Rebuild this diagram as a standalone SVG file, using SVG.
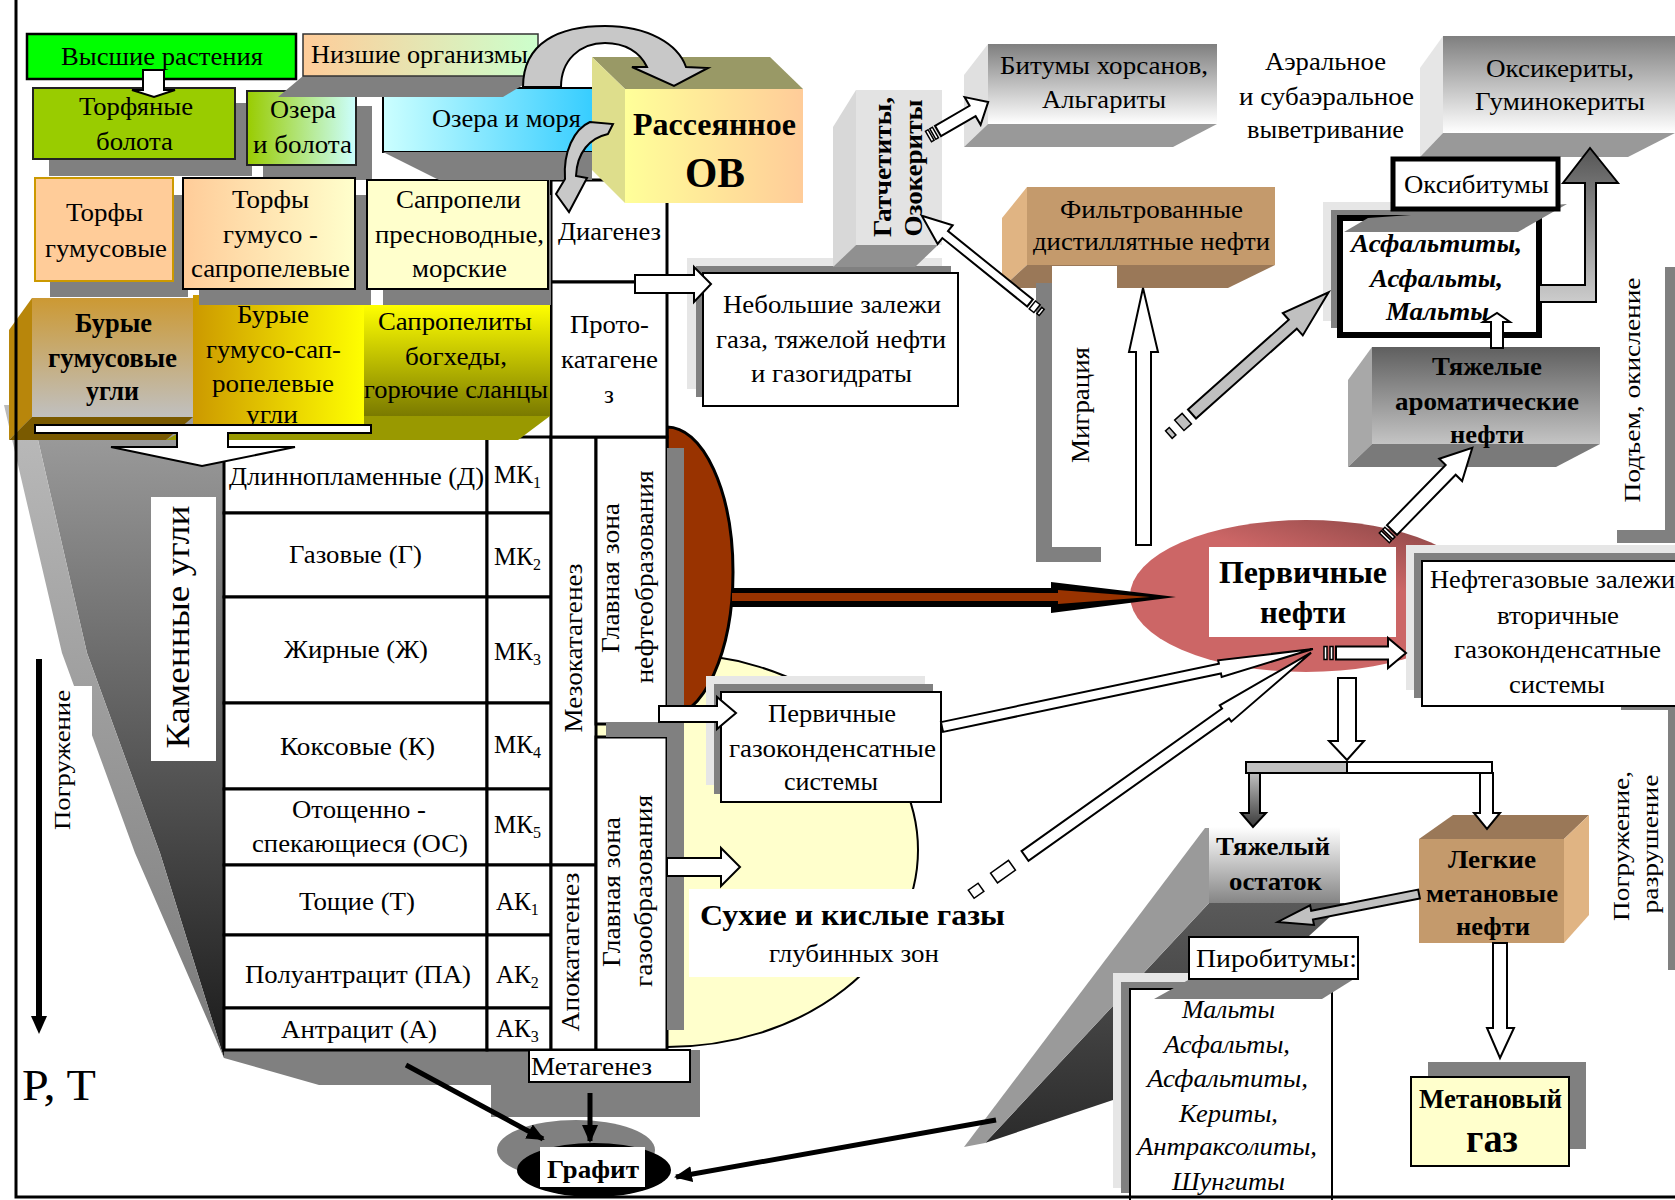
<svg xmlns="http://www.w3.org/2000/svg" width="1675" height="1200" viewBox="0 0 1675 1200">
<defs>
<style>
text{font-family:"Liberation Serif","Times New Roman",serif;font-size:25px;fill:#000}
.m{text-anchor:middle}
.b{font-weight:bold}
.i{font-style:italic}
.sh{fill:#808080}
.shl{fill:#e6e6e6}
.bx{fill:#fff;stroke:#000;stroke-width:2}
.cell{fill:#fff;stroke:#000;stroke-width:3}
.wa{fill:#fff;stroke:#000;stroke-width:2;stroke-linejoin:miter}
.ga{fill:#c0c0c0;stroke:#000;stroke-width:2}
.st{fill:#fff;stroke:#000;stroke-width:1.5}
.blk{stroke:#000;stroke-width:5;fill:none}
</style>
<linearGradient id="gOzB" x1="0" y1="0" x2="1" y2="0"><stop offset="0" stop-color="#99CC00"/><stop offset="1" stop-color="#CCFFFF"/></linearGradient>
<linearGradient id="gNiz" x1="0" y1="0" x2="1" y2="0"><stop offset="0" stop-color="#FFCC99"/><stop offset="1" stop-color="#CCFFCC"/></linearGradient>
<linearGradient id="gOzM" x1="0" y1="0" x2="1" y2="0"><stop offset="0" stop-color="#CCFFFF"/><stop offset="1" stop-color="#33CCFF"/></linearGradient>
<linearGradient id="gTGS" x1="0" y1="0" x2="1" y2="0"><stop offset="0" stop-color="#FFCC99"/><stop offset="1" stop-color="#FFFFCC"/></linearGradient>
<linearGradient id="gOV" x1="0" y1="0" x2="1" y2="0"><stop offset="0" stop-color="#FFFF99"/><stop offset="1" stop-color="#FFCC99"/></linearGradient>
<linearGradient id="gBG" x1="0" y1="0" x2="0" y2="1"><stop offset="0" stop-color="#CC9933"/><stop offset="1" stop-color="#C0C0C0"/></linearGradient>
<linearGradient id="gBGS" x1="0" y1="0" x2="1" y2="0"><stop offset="0" stop-color="#CC9900"/><stop offset="1" stop-color="#FFFF00"/></linearGradient>
<linearGradient id="gSap" x1="0" y1="0" x2="0" y2="1"><stop offset="0" stop-color="#FFFF00"/><stop offset="1" stop-color="#7A7A00"/></linearGradient>
<linearGradient id="gGr" x1="0" y1="0" x2="0" y2="1"><stop offset="0" stop-color="#7F7F7F"/><stop offset="1" stop-color="#FFFFFF"/></linearGradient>
<linearGradient id="gTA" x1="0" y1="0" x2="0" y2="1"><stop offset="0" stop-color="#5F5F5F"/><stop offset="1" stop-color="#C4C4C4"/></linearGradient>
<linearGradient id="gTO" x1="0" y1="0" x2="0" y2="1"><stop offset="0" stop-color="#FFFFFF"/><stop offset="1" stop-color="#858585"/></linearGradient>
<linearGradient id="gW" gradientUnits="userSpaceOnUse" x1="0" y1="405" x2="0" y2="1058"><stop offset="0" stop-color="#A0A0A0"/><stop offset="1" stop-color="#1A1A1A"/></linearGradient>
<linearGradient id="gWL" gradientUnits="userSpaceOnUse" x1="0" y1="405" x2="0" y2="1058"><stop offset="0" stop-color="#BBBBBB"/><stop offset="1" stop-color="#7A7A7A"/></linearGradient>
<linearGradient id="gTOd" gradientUnits="userSpaceOnUse" x1="0" y1="900" x2="0" y2="1147"><stop offset="0" stop-color="#5A5A5A"/><stop offset="1" stop-color="#2A2A2A"/></linearGradient>
<linearGradient id="gUp" x1="0" y1="0" x2="0" y2="1"><stop offset="0" stop-color="#555555"/><stop offset="1" stop-color="#CCCCCC"/></linearGradient>
<linearGradient id="gDn" x1="0" y1="0" x2="0" y2="1"><stop offset="0" stop-color="#C0C0C0"/><stop offset="1" stop-color="#3A3A3A"/></linearGradient>
<linearGradient id="gPN" x1="0.3" y1="0.75" x2="0.8" y2="0"><stop offset="0" stop-color="#CC6666"/><stop offset="0.55" stop-color="#CC6666"/><stop offset="1" stop-color="#8E4848"/></linearGradient>
<marker id="ah" markerUnits="userSpaceOnUse" markerWidth="18" markerHeight="16" refX="16" refY="8" orient="auto"><path d="M0,0 L18,8 L0,16 Z" fill="#000"/></marker>
</defs>

<rect width="1675" height="1200" fill="#fff"/>

<g id="zone-gas-bg">
<ellipse cx="667" cy="850" rx="251" ry="197" fill="#FFFFCC" stroke="#000" stroke-width="2"/>
</g>
<g id="zone-oil-bg">
<path d="M667,427 A66,145 0 0 1 667,717 Z" fill="#993300" stroke="#000" stroke-width="3"/>
</g>

<g id="wedge-pogruzhenie">
<polygon points="30,405 224,405 224,1058 160,853 87,653" fill="url(#gW)"/>
<polygon points="4,405 30,405 87,653 160,853 224,1058 135,853 62,653" fill="url(#gWL)"/>
<rect x="45" y="686" width="47" height="149" fill="#fff"/>
<text x="70" y="760" transform="rotate(-90 70 760)" class="m" style="font-size:24px" textLength="140" lengthAdjust="spacingAndGlyphs">Погружение</text>
<line x1="39" y1="659" x2="39" y2="1020" stroke="#000" stroke-width="6"/>
<polygon points="31,1016 47,1016 39,1034" fill="#000"/>
<text x="22" y="1100" style="font-size:44px" textLength="74" lengthAdjust="spacingAndGlyphs">P, T</text>
<rect x="151" y="497" width="65" height="264" fill="#fff"/>
<text x="189" y="627" transform="rotate(-90 189 627)" class="m" style="font-size:33px" textLength="243" lengthAdjust="spacingAndGlyphs">Каменные угли</text>
</g>

<g id="table-coal">
<polygon class="sh" points="224,1050 224,1058 319,1085 491,1085 491,1117 700,1117 700,1050"/>
<rect class="cell" x="224" y="437" width="263" height="76"/><rect class="cell" x="487" y="437" width="64" height="76"/>
<rect class="cell" x="224" y="513" width="263" height="84"/><rect class="cell" x="487" y="513" width="64" height="84"/>
<rect class="cell" x="224" y="597" width="263" height="106"/><rect class="cell" x="487" y="597" width="64" height="106"/>
<rect class="cell" x="224" y="703" width="263" height="86"/><rect class="cell" x="487" y="703" width="64" height="86"/>
<rect class="cell" x="224" y="789" width="263" height="76"/><rect class="cell" x="487" y="789" width="64" height="76"/>
<rect class="cell" x="224" y="865" width="263" height="70"/><rect class="cell" x="487" y="865" width="64" height="70"/>
<rect class="cell" x="224" y="935" width="263" height="73"/><rect class="cell" x="487" y="935" width="64" height="73"/>
<rect class="cell" x="224" y="1008" width="263" height="42"/><rect class="cell" x="487" y="1008" width="64" height="42"/>
<text x="356.5" y="485" class="m" textLength="255" lengthAdjust="spacingAndGlyphs">Длиннопламенные (Д)</text>
<text x="355.5" y="563" class="m" textLength="133" lengthAdjust="spacingAndGlyphs">Газовые (Г)</text>
<text x="356" y="658" class="m" textLength="144" lengthAdjust="spacingAndGlyphs">Жирные (Ж)</text>
<text x="357.5" y="755" class="m" textLength="155" lengthAdjust="spacingAndGlyphs">Коксовые (К)</text>
<text x="359" y="818" class="m" textLength="134" lengthAdjust="spacingAndGlyphs">Отощенно -</text>
<text x="360" y="852" class="m" textLength="216" lengthAdjust="spacingAndGlyphs">спекающиеся (ОС)</text>
<text x="357" y="910" class="m" textLength="116" lengthAdjust="spacingAndGlyphs">Тощие (Т)</text>
<text x="358" y="983" class="m" textLength="226" lengthAdjust="spacingAndGlyphs">Полуантрацит (ПА)</text>
<text x="359" y="1038" class="m" textLength="156" lengthAdjust="spacingAndGlyphs">Антрацит (А)</text>
<text x="494" y="483">МК<tspan font-size="16" dy="5">1</tspan></text>
<text x="494" y="565">МК<tspan font-size="16" dy="5">2</tspan></text>
<text x="494" y="660">МК<tspan font-size="16" dy="5">3</tspan></text>
<text x="494" y="753">МК<tspan font-size="16" dy="5">4</tspan></text>
<text x="494" y="833">МК<tspan font-size="16" dy="5">5</tspan></text>
<text x="496" y="910">АК<tspan font-size="16" dy="5">1</tspan></text>
<text x="496" y="983">АК<tspan font-size="16" dy="5">2</tspan></text>
<text x="496" y="1037">АК<tspan font-size="16" dy="5">3</tspan></text>
</g>

<g id="stages-column">
<rect class="cell" x="551" y="437" width="45" height="428"/>
<rect class="cell" x="551" y="865" width="45" height="185"/>
<rect class="cell" x="596" y="437" width="71" height="287"/>
<rect class="cell" x="596" y="737" width="71" height="313"/>
<rect class="sh" x="606" y="722" width="78" height="15"/>
<rect class="sh" x="667" y="448" width="17" height="582"/>
<text x="582" y="648" transform="rotate(-90 582 648)" class="m" textLength="169" lengthAdjust="spacingAndGlyphs">Мезокатагенез</text>
<text x="579" y="952" transform="rotate(-90 579 952)" class="m" textLength="159" lengthAdjust="spacingAndGlyphs">Апокатагенез</text>
<text x="619" y="578" transform="rotate(-90 619 578)" class="m" textLength="150" lengthAdjust="spacingAndGlyphs">Главная зона</text>
<text x="653" y="577" transform="rotate(-90 653 577)" class="m" textLength="213" lengthAdjust="spacingAndGlyphs">нефтеобразования</text>
<text x="620" y="892" transform="rotate(-90 620 892)" class="m" textLength="150" lengthAdjust="spacingAndGlyphs">Главная зона</text>
<text x="652" y="891" transform="rotate(-90 652 891)" class="m" textLength="192" lengthAdjust="spacingAndGlyphs">газообразования</text>
<rect x="529" y="1050" width="161" height="32" class="bx"/>
<text x="591.5" y="1075" class="m" textLength="121" lengthAdjust="spacingAndGlyphs">Метагенез</text>
<rect class="cell" x="551" y="180" width="116" height="102"/>
<rect class="cell" x="551" y="282" width="116" height="155"/>
<text x="609.5" y="240" class="m" textLength="103" lengthAdjust="spacingAndGlyphs">Диагенез</text>
<text x="609.5" y="333" class="m" textLength="79" lengthAdjust="spacingAndGlyphs">Прото-</text>
<text x="609.5" y="368" class="m" textLength="97" lengthAdjust="spacingAndGlyphs">катагене</text>
<text x="609" y="403" class="m">з</text>
</g>

<g id="coal-slab">
<rect x="193" y="295" width="171" height="130" fill="url(#gBGS)"/>
<rect x="364" y="305" width="186" height="111" fill="url(#gSap)"/>
<polygon points="166,440 193,425 364,425 364,416 550,416 518,440" fill="#999900"/>
<polygon points="9,330 32,298 32,417 9,440" fill="#B8860B"/>
<polygon points="32,417 193,417 166,440 9,440" fill="#7A5A00"/>
<rect x="32" y="298" width="161" height="119" fill="url(#gBG)"/>
<text x="113.5" y="332" class="m b" style="font-size:27px" textLength="77" lengthAdjust="spacingAndGlyphs">Бурые</text>
<text x="112.5" y="367" class="m b" style="font-size:27px" textLength="129" lengthAdjust="spacingAndGlyphs">гумусовые</text>
<text x="112.5" y="400" class="m b" style="font-size:27px" textLength="53" lengthAdjust="spacingAndGlyphs">угли</text>
<text x="273" y="323" class="m" textLength="72" lengthAdjust="spacingAndGlyphs">Бурые</text>
<text x="273.5" y="358" class="m" textLength="135" lengthAdjust="spacingAndGlyphs">гумусо-сап-</text>
<text x="273" y="392" class="m" textLength="122" lengthAdjust="spacingAndGlyphs">ропелевые</text>
<text x="272" y="423" class="m" textLength="52" lengthAdjust="spacingAndGlyphs">угли</text>
<text x="455" y="330" class="m" textLength="154" lengthAdjust="spacingAndGlyphs">Сапропелиты</text>
<text x="456" y="365" class="m" textLength="102" lengthAdjust="spacingAndGlyphs">богхеды,</text>
<text x="456" y="398" class="m" textLength="184" lengthAdjust="spacingAndGlyphs">горючие сланцы</text>
</g>

<g id="row2-shadows">
<rect class="sh" x="49" y="103" width="203" height="73"/>
<rect class="sh" x="263" y="106" width="109" height="74"/>
<rect class="sh" x="50" y="195" width="138" height="102"/>
<rect class="sh" x="199" y="195" width="172" height="110"/>
<rect class="sh" x="383" y="195" width="168" height="110"/>
</g>

<g id="n-torfy-gum">
<rect x="35" y="178" width="138" height="103" fill="#FFCC99" stroke="#CC9900" stroke-width="2"/>
<text x="104.5" y="221" class="m" textLength="77" lengthAdjust="spacingAndGlyphs">Торфы</text>
<text x="106" y="257" class="m" textLength="122" lengthAdjust="spacingAndGlyphs">гумусовые</text>
</g>
<g id="n-torfy-gs">
<rect x="183" y="178" width="172" height="111" fill="url(#gTGS)" stroke="#000" stroke-width="2"/>
<text x="270.5" y="208" class="m" textLength="77" lengthAdjust="spacingAndGlyphs">Торфы</text>
<text x="270.5" y="243" class="m" textLength="95" lengthAdjust="spacingAndGlyphs">гумусо -</text>
<text x="270.5" y="277" class="m" textLength="159" lengthAdjust="spacingAndGlyphs">сапропелевые</text>
</g>
<g id="n-sapropeli">
<rect x="367" y="180" width="181" height="109" fill="#FFFFCC" stroke="#000" stroke-width="2"/>
<text x="458.5" y="208" class="m" textLength="125" lengthAdjust="spacingAndGlyphs">Сапропели</text>
<text x="459.5" y="243" class="m" textLength="169" lengthAdjust="spacingAndGlyphs">пресноводные,</text>
<text x="459.5" y="277" class="m" textLength="95" lengthAdjust="spacingAndGlyphs">морские</text>
</g>

<g id="n-ozera-morya">
<rect x="383" y="88" width="215" height="64" fill="url(#gOzM)" stroke="#000" stroke-width="2"/>
<polygon class="sh" points="383,152 592,152 592,180 439,180"/>
<text x="506.5" y="127" class="m" textLength="149" lengthAdjust="spacingAndGlyphs">Озера и моря</text>
</g>
<g id="n-torf-bolota">
<rect x="33" y="88" width="202" height="71" fill="#99CC00" stroke="#222" stroke-width="2"/>
<text x="136" y="115" class="m" textLength="114" lengthAdjust="spacingAndGlyphs">Торфяные</text>
<text x="134.5" y="150" class="m" textLength="77" lengthAdjust="spacingAndGlyphs">болота</text>
</g>
<g id="n-ozera-bolota">
<rect x="247" y="91" width="109" height="74" fill="url(#gOzB)" stroke="#222" stroke-width="2"/>
<text x="303" y="118" class="m" textLength="66" lengthAdjust="spacingAndGlyphs">Озера</text>
<text x="302.5" y="153" class="m" textLength="99" lengthAdjust="spacingAndGlyphs">и болота</text>
</g>
<g id="n-vysshie">
<rect x="27" y="34" width="269" height="45" fill="#00FF00" stroke="#000" stroke-width="2.5"/>
<text x="162" y="65" class="m" textLength="202" lengthAdjust="spacingAndGlyphs">Высшие растения</text>
</g>
<g id="n-nizshie">
<polygon class="sh" points="303,76 538,76 503,97 278,97"/>
<rect x="303" y="34" width="235" height="42" fill="url(#gNiz)" stroke="#333" stroke-width="1.5"/>
<text x="311" y="63" textLength="217" lengthAdjust="spacingAndGlyphs">Низшие организмы</text>
</g>

<g id="n-ov">
<polygon points="592,57 770,57 803,89 625,89" fill="#999966"/>
<polygon points="592,57 625,89 625,203 592,170" fill="#DEDE8C"/>
<rect x="625" y="89" width="178" height="114" fill="url(#gOV)"/>
<text x="714.5" y="135" class="m b" style="font-size:32px" textLength="163" lengthAdjust="spacingAndGlyphs">Рассеянное</text>
<text x="715" y="187" class="m b" style="font-size:43px" textLength="60" lengthAdjust="spacingAndGlyphs">ОВ</text>
</g>

<g id="n-nebolshie">
<rect class="shl" x="687" y="258" width="255" height="131"/>
<rect class="sh" x="696" y="266" width="255" height="131"/>
<rect class="bx" x="703" y="273" width="255" height="133"/>
<text x="832" y="313" class="m" textLength="218" lengthAdjust="spacingAndGlyphs">Небольшие залежи</text>
<text x="831" y="348" class="m" textLength="230" lengthAdjust="spacingAndGlyphs">газа, тяжелой нефти</text>
<text x="831.5" y="382" class="m" textLength="161" lengthAdjust="spacingAndGlyphs">и газогидраты</text>
</g>

<g id="n-gatchetity">
<polygon points="833,127 856,90 856,245 833,267" fill="#D8D8D8"/>
<polygon points="856,245 938,245 915,267 833,267" fill="#909090"/>
<rect x="856" y="90" width="86" height="155" fill="#E3E3E3"/>
<text x="891" y="167" transform="rotate(-90 891 167)" class="m b" textLength="140" lengthAdjust="spacingAndGlyphs">Гатчетиты,</text>
<text x="922" y="168" transform="rotate(-90 922 168)" class="m b" textLength="137" lengthAdjust="spacingAndGlyphs">Озокериты</text>
</g>

<g id="n-bitumy">
<polygon points="964,75 988,44 988,124 964,147" fill="#E0E0E0"/>
<polygon points="988,124 1217,124 1173,147 964,147" fill="#999999"/>
<rect x="988" y="44" width="229" height="80" fill="url(#gGr)"/>
<text x="1104" y="74" class="m" textLength="208" lengthAdjust="spacingAndGlyphs">Битумы хорсанов,</text>
<text x="1104" y="108" class="m" textLength="124" lengthAdjust="spacingAndGlyphs">Альгариты</text>
</g>

<g id="n-aeralnoe">
<text x="1325.5" y="70" class="m" textLength="121" lengthAdjust="spacingAndGlyphs">Аэральное</text>
<text x="1326.5" y="105" class="m" textLength="175" lengthAdjust="spacingAndGlyphs">и субаэральное</text>
<text x="1325.5" y="138" class="m" textLength="157" lengthAdjust="spacingAndGlyphs">выветривание</text>
</g>

<g id="n-oksikerity">
<polygon points="1420,68 1443,36 1443,133 1420,157" fill="#E6E6E6"/>
<polygon points="1443,133 1675,133 1628,157 1420,157" fill="#999999"/>
<rect x="1443" y="36" width="232" height="97" fill="url(#gGr)"/>
<text x="1560" y="77" class="m" textLength="148" lengthAdjust="spacingAndGlyphs">Оксикериты,</text>
<text x="1560" y="110" class="m" textLength="170" lengthAdjust="spacingAndGlyphs">Гуминокериты</text>
</g>

<g id="n-asfaltity">
<rect class="shl" x="1323" y="202" width="200" height="119"/>
<rect class="sh" x="1331" y="210" width="200" height="118"/>
<rect x="1340" y="218" width="199" height="117" fill="#fff" stroke="#000" stroke-width="6"/>
<polygon class="sh" points="1368,218 1567,204 1518,232 1344,232"/>
<text x="1436.5" y="252" class="m b i" textLength="171" lengthAdjust="spacingAndGlyphs">Асфальтиты,</text>
<text x="1436.5" y="287" class="m b i" textLength="133" lengthAdjust="spacingAndGlyphs">Асфальты,</text>
<text x="1437.5" y="320" class="m b i" textLength="103" lengthAdjust="spacingAndGlyphs">Мальты</text>
</g>
<g id="n-oksibitumy">
<rect x="1393" y="159" width="165" height="50" fill="#fff" stroke="#000" stroke-width="5"/>
<text x="1476.5" y="193" class="m" textLength="145" lengthAdjust="spacingAndGlyphs">Оксибитумы</text>
</g>

<g id="n-tyazh-arom">
<polygon points="1348,380 1372,347 1372,444 1348,467" fill="#A8A8A8"/>
<polygon points="1372,444 1600,444 1556,467 1348,467" fill="#7A7A7A"/>
<rect x="1372" y="347" width="228" height="97" fill="url(#gTA)"/>
<text x="1487" y="375" class="m b" textLength="110" lengthAdjust="spacingAndGlyphs">Тяжелые</text>
<text x="1487" y="410" class="m b" textLength="184" lengthAdjust="spacingAndGlyphs">ароматические</text>
<text x="1487" y="443" class="m b" textLength="74" lengthAdjust="spacingAndGlyphs">нефти</text>
</g>

<g id="n-filtr">
<polygon points="1002,218 1027,187 1027,265 1002,288" fill="#E0B483"/>
<polygon points="1027,265 1275,265 1228,288 1002,288" fill="#9A7858"/>
<rect x="1027" y="187" width="248" height="78" fill="#C49A6C"/>
<text x="1151.5" y="218" class="m" textLength="183" lengthAdjust="spacingAndGlyphs">Фильтрованные</text>
<text x="1151.5" y="250" class="m" textLength="237" lengthAdjust="spacingAndGlyphs">дистиллятные нефти</text>
</g>

<g id="n-migraciya">
<rect x="1052" y="266" width="65" height="281" fill="#fff"/>
<rect class="sh" x="1036" y="283" width="16" height="279"/>
<rect class="sh" x="1036" y="547" width="65" height="15"/>
<text x="1089" y="405" transform="rotate(-90 1089 405)" class="m" textLength="116" lengthAdjust="spacingAndGlyphs">Миграция</text>
</g>

<g id="n-podem">
<rect class="sh" x="1665" y="267" width="10" height="276"/>
<rect class="sh" x="1617" y="530" width="58" height="13"/>
<text x="1640" y="390" transform="rotate(-90 1640 390)" class="m" style="font-size:24px" textLength="225" lengthAdjust="spacingAndGlyphs">Подъем, окисление</text>
</g>

<g id="n-pogruzh-razr">
<rect class="sh" x="1668" y="704" width="7" height="266"/>
<rect class="sh" x="1621" y="704" width="54" height="6"/>
<text x="1629" y="846" transform="rotate(-90 1629 846)" class="m" style="font-size:24px" textLength="150" lengthAdjust="spacingAndGlyphs">Погружение,</text>
<text x="1658" y="844" transform="rotate(-90 1658 844)" class="m" style="font-size:24px" textLength="139" lengthAdjust="spacingAndGlyphs">разрушение</text>
</g>

<g id="n-pervichnye-nefti">
<ellipse cx="1306" cy="596" rx="176" ry="76" fill="url(#gPN)"/>
<rect x="1209" y="547" width="187" height="90" fill="#fff"/>
<text x="1303" y="583" class="m b" style="font-size:32px" textLength="168" lengthAdjust="spacingAndGlyphs">Первичные</text>
<text x="1303" y="623" class="m b" style="font-size:32px" textLength="86" lengthAdjust="spacingAndGlyphs">нефти</text>
</g>

<g id="n-neftegaz">
<rect class="shl" x="1406" y="545" width="269" height="145"/>
<rect class="sh" x="1414" y="553" width="261" height="145"/>
<rect class="bx" x="1422" y="561" width="280" height="145"/>
<text x="1430" y="588" textLength="245" lengthAdjust="spacingAndGlyphs">Нефтегазовые залежи</text>
<text x="1558" y="624" class="m" textLength="122" lengthAdjust="spacingAndGlyphs">вторичные</text>
<text x="1557.5" y="658" class="m" textLength="207" lengthAdjust="spacingAndGlyphs">газоконденсатные</text>
<text x="1557" y="693" class="m" textLength="96" lengthAdjust="spacingAndGlyphs">системы</text>
</g>

<g id="n-perv-gazokond">
<rect class="shl" x="706" y="676" width="219" height="109"/>
<rect class="sh" x="714" y="684" width="219" height="110"/>
<rect class="bx" x="721" y="692" width="220" height="110"/>
<text x="832" y="722" class="m" textLength="128" lengthAdjust="spacingAndGlyphs">Первичные</text>
<text x="832.5" y="757" class="m" textLength="207" lengthAdjust="spacingAndGlyphs">газоконденсатные</text>
<text x="831" y="790" class="m" textLength="94" lengthAdjust="spacingAndGlyphs">системы</text>
</g>

<g id="n-sukhie-gazy">
<rect x="689" y="889" width="323" height="88" fill="#fff"/>
<text x="852.5" y="925" class="m b" style="font-size:29px" textLength="305" lengthAdjust="spacingAndGlyphs">Сухие и кислые газы</text>
<text x="854" y="962" class="m" textLength="170" lengthAdjust="spacingAndGlyphs">глубинных зон</text>
</g>

<g id="n-tyazh-ostatok">
<polygon points="1209,903 1345,903 1250,990 1113,1100 985,1143" fill="url(#gTOd)"/>
<polygon points="1205,828 1209,828 1209,903 985,1143 964,1147" fill="#9A9A9A"/>
<rect x="1209" y="827" width="131" height="76" fill="url(#gTO)"/>
<text x="1273" y="855" class="m b" textLength="114" lengthAdjust="spacingAndGlyphs">Тяжелый</text>
<text x="1275.5" y="890" class="m b" textLength="93" lengthAdjust="spacingAndGlyphs">остаток</text>
</g>

<g id="n-pirobitumy">
<rect class="shl" x="1113" y="973" width="190" height="215"/>
<rect class="sh" x="1121" y="982" width="190" height="211"/>
<rect class="bx" x="1130" y="989" width="202" height="220"/>
<polygon class="sh" points="1154,999 1190,979 1354,979 1322,999"/>
<rect class="bx" x="1189" y="937" width="169" height="42"/>
<text x="1276.5" y="967" class="m" textLength="161" lengthAdjust="spacingAndGlyphs">Пиробитумы:</text>
<text x="1228.5" y="1018" class="m i" textLength="93" lengthAdjust="spacingAndGlyphs">Мальты</text>
<text x="1227" y="1053" class="m i" textLength="126" lengthAdjust="spacingAndGlyphs">Асфальты,</text>
<text x="1227.5" y="1087" class="m i" textLength="161" lengthAdjust="spacingAndGlyphs">Асфальтиты,</text>
<text x="1228.5" y="1122" class="m i" textLength="99" lengthAdjust="spacingAndGlyphs">Кериты,</text>
<text x="1227" y="1155" class="m i" textLength="180" lengthAdjust="spacingAndGlyphs">Антраксолиты,</text>
<text x="1228.5" y="1190" class="m i" textLength="113" lengthAdjust="spacingAndGlyphs">Шунгиты</text>
</g>

<g id="n-legkie">
<polygon points="1419,839 1453,815 1589,815 1564,839" fill="#9A7858"/>
<polygon points="1564,839 1589,815 1589,915 1564,943" fill="#E0B483"/>
<rect x="1419" y="839" width="145" height="104" fill="#C49A6C"/>
<text x="1492" y="868" class="m b" textLength="88" lengthAdjust="spacingAndGlyphs">Легкие</text>
<text x="1492" y="902" class="m b" textLength="132" lengthAdjust="spacingAndGlyphs">метановые</text>
<text x="1493" y="935" class="m b" textLength="74" lengthAdjust="spacingAndGlyphs">нефти</text>
</g>

<g id="n-metanovyi-gaz">
<rect class="sh" x="1428" y="1062" width="158" height="87"/>
<rect x="1411" y="1077" width="158" height="89" fill="#FFFFCC" stroke="#000" stroke-width="2"/>
<text x="1490.5" y="1108" class="m b" style="font-size:27px" textLength="143" lengthAdjust="spacingAndGlyphs">Метановый</text>
<text x="1492" y="1152" class="m b" style="font-size:40px" textLength="52" lengthAdjust="spacingAndGlyphs">газ</text>
</g>

<g id="n-grafit">
<ellipse cx="576" cy="1150" rx="79" ry="30" fill="#808080"/>
<ellipse cx="594" cy="1170" rx="77" ry="27" fill="#000"/>
<rect x="540" y="1147" width="105" height="40" fill="#fff"/>
<text x="593" y="1178" class="m b" style="font-size:26px" textLength="92" lengthAdjust="spacingAndGlyphs">Графит</text>
</g>

<g id="connectors">
<!-- curved arrows -->
<path d="M523,87 C523,42 560,26 605,26 C648,26 678,44 686,67 L708,68 L674,86 L632,67 L647,67 C640,52 625,43 605,43 C580,43 561,60 561,87 Z" fill="#C8C8C8" stroke="#000" stroke-width="2"/>
<path d="M613,124 L608,134 C590,138 577,152 576,176 L587,178 L569,212 L556,194 L565,179 C563,152 574,129 590,122 Z" fill="#C8C8C8" stroke="#000" stroke-width="2"/>
<!-- straight block arrows -->
<polygon class="wa" points="143,70 164,70 164,90 175,90 154,97 132,90 143,90"/>
<polygon class="wa" points="35,425 371,425 371,433 228,433 228,447 295,447 202,466 111,447 177,447 177,433 35,433"/>
<polygon class="wa" points="635,275 694,275 694,267 711,284 694,302 694,293 635,293"/>
<polygon class="wa" points="659,706 717,706 717,697 736,713 717,729 717,722 659,722"/>
<polygon class="wa" points="667,858 721,858 721,848 740,867 721,886 721,876 667,876"/>
<polygon class="wa" points="1136,545 1151,545 1151,352 1158,352 1143,288 1129,352 1136,352"/>
<polygon class="wa" points="1491,348 1503,348 1503,322 1510,322 1497,313 1483,322 1491,322"/>
<polygon points="1539,285 1585,285 1585,183 1563,183 1590,148 1618,183 1596,183 1596,302 1539,302" fill="url(#gUp)" stroke="#000" stroke-width="2"/>
<polygon class="wa" points="1338,678 1356,678 1356,741 1364,741 1347,760 1329,741 1338,741"/>
<rect class="wa" x="1246" y="762" width="246" height="11"/>
<rect x="1246" y="762" width="101" height="11" fill="#C0C0C0" stroke="#000" stroke-width="2"/>
<polygon points="1249,773 1260,773 1260,813 1266,813 1253,827 1241,813 1249,813" fill="url(#gDn)" stroke="#000" stroke-width="2"/>
<polygon class="wa" points="1480,773 1493,773 1493,813 1500,813 1487,829 1474,813 1480,813"/>
<polygon class="wa" points="1493,943 1507,943 1507,1028 1514,1028 1500,1058 1487,1028 1493,1028"/>
<!-- diagonal block arrows -->
<g transform="translate(938,131) rotate(-30.1)"><polygon class="wa" points="0,-6 40,-6 40,-16 58,0 40,16 40,6 0,6"/><rect class="st" x="-6" y="-6" width="3" height="12"/><rect class="st" x="-11" y="-6" width="3" height="12"/></g>
<g transform="translate(1030,303) rotate(-141.1)"><polygon class="wa" points="0,-4.5 109,-4.5 109,-12 139,0 109,12 109,4.5 0,4.5"/><rect class="st" x="-9" y="-5" width="6" height="10"/><rect class="st" x="-15" y="-4" width="3" height="8"/></g>
<g transform="translate(1192,414) rotate(-41.7)"><polygon class="ga" points="0,-6 135,-6 135,-15 183,0 135,15 135,6 0,6"/><rect x="-17" y="-7" width="10" height="14" fill="#c0c0c0" stroke="#000" stroke-width="1.5"/><rect x="-31" y="-5" width="5" height="10" fill="#c0c0c0" stroke="#000" stroke-width="1.5"/></g>
<g transform="translate(1392,530) rotate(-45.7)"><polygon class="wa" points="0,-7 84,-7 84,-16 115,0 84,16 84,7 0,7"/><rect class="st" x="-6" y="-7" width="3" height="14"/><rect class="st" x="-11" y="-7" width="3" height="14"/></g>
<g transform="translate(1336,653)"><polygon class="wa" points="0,-6.5 52,-6.5 52,-15 70,0 52,15 52,6.5 0,6.5"/><rect class="st" x="-6" y="-6.5" width="3" height="13"/><rect class="st" x="-12" y="-6.5" width="3" height="13"/></g>
<g transform="translate(942,727) rotate(-11.87)"><polygon class="wa" points="0,-5 284,-5 284,-8.5 379,0 284,8.5 284,5 0,5"/></g>
<g transform="translate(1025,856) rotate(-35.4)"><polygon class="wa" points="0,-6 246,-6 246,-10 351,0 246,10 246,6 0,6"/><rect class="st" x="-38" y="-6" width="22" height="12"/><rect class="st" x="-66" y="-5" width="12" height="10"/></g>
<g transform="translate(1419,894) rotate(168.8)"><polygon class="ga" points="0,-4.5 109,-4.5 109,-10 144,0 109,10 109,4.5 0,4.5"/></g>
<!-- brown main arrow -->
<polygon points="732,588 1051,588 1051,582 1176,597 1051,613 1051,607 732,607" fill="#000"/>
<polygon points="732,593 1058,593 1058,590 1150,597 1058,604 1058,601 732,601" fill="#993300"/>
<!-- graphite arrows -->
<line class="blk" x1="406" y1="1065" x2="543" y2="1139" marker-end="url(#ah)"/>
<line class="blk" x1="590" y1="1093" x2="590" y2="1141" marker-end="url(#ah)"/>
<line class="blk" x1="996" y1="1120" x2="676" y2="1177" marker-end="url(#ah)"/>
</g>

<g id="frame">
<path d="M16,0 V1197 H1675" fill="none" stroke="#000" stroke-width="3"/>
</g>
</svg>
